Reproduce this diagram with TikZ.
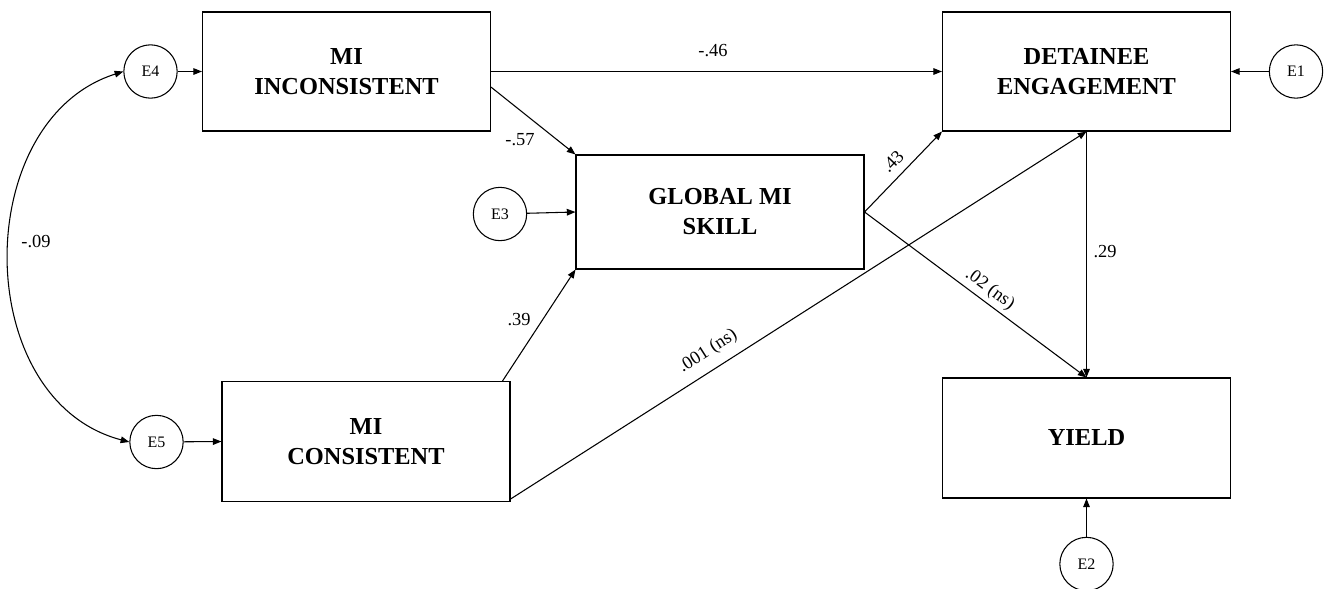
\documentclass[tikz,border=0pt]{standalone}
\usepackage{fontspec}
\setmainfont{Liberation Serif}
\usetikzlibrary{arrows.meta,calc}
\tikzset{
  boxnode/.style={draw, line width=0.8pt, rectangle, minimum width=216pt, inner sep=0pt, align=center,
    font=\bfseries\fontsize{18.3}{22.5}\selectfont},
  errnode/.style={draw, line width=0.8pt, circle, minimum size=40pt, inner sep=0pt,
    font=\fontsize{12}{14}\selectfont},
  coef/.style={font=\fontsize{13.8}{16}\selectfont, inner sep=1pt},
  path/.style={line width=0.8pt, -{Triangle[length=6.5pt,width=5pt]}},
  cov/.style={line width=0.8pt, {Triangle[length=6.5pt,width=5pt]}-{Triangle[length=6.5pt,width=5pt]}}
}
\begin{document}
\begin{tikzpicture}[x=0.75pt,y=-0.75pt]
\useasboundingbox (0,0) rectangle (1325,589);
% boxes
\node[boxnode, minimum height=89.25pt] (inc) at (346.5,71.5) {MI\\INCONSISTENT};
\node[boxnode, minimum height=89.25pt] (det) at (1086.5,71.5) {DETAINEE\\ENGAGEMENT};
\node[boxnode, minimum height=85.5pt] (glob) at (720,212) {GLOBAL MI\\SKILL};
\node[boxnode, minimum height=90pt] (cons) at (366,441.5) {MI\\CONSISTENT};
\node[boxnode, minimum height=90pt] (yield) at (1086.5,438) {YIELD};
% error terms
\node[errnode] (e4) at (150.5,71.5) {E4};
\node[errnode] (e5) at (156.5,442) {E5};
\node[errnode] (e3) at (500,214) {E3};
\node[errnode] (e1) at (1296,71.5) {E1};
\node[errnode] (e2) at (1086.5,564) {E2};
% error arrows
\draw[path] (e4) -- (inc.west);
\draw[path] (e5) -- (cons.west);
\draw[path] (e3) -- (glob.west);
\draw[path] (e1) -- (det.east);
\draw[path] (e2) -- (yield.south);
% covariance
\draw[cov] (e4.west) .. controls (-30,120) and (-30,400) .. (e5.west);
% structural paths
\draw[path] (inc.east) -- (det.west);
\draw[path] ($(inc.east)!0.26!(inc.south east)$) -- (glob.north west);
\draw[path] ($(cons.north east)+(-8,0)$) -- (glob.south west);
\draw[path] ($(cons.south east)+(0,-3)$) -- node[coef, pos=0.36, sloped, above=6pt] (l001) {.001 (ns)} (det.south);
\draw[path] (glob.east) -- node[coef, pos=0.5, sloped, above=5pt] (l43) {.43} (det.south west);
\draw[path] (glob.east) -- node[coef, pos=0.53, sloped, above=2pt] (l02) {.02 (ns)} (yield.north);
\draw[path] (det.south) -- (yield.north);
% coefficient labels
\node[coef] (l46) at (713,51) {-.46};
\node[coef] (l57) at (520,140) {-.57};
\node[coef] (l39) at (519,320) {.39};
\node[coef] (l29) at (1105,252) {.29};
\node[coef] (l09) at (36,242) {-.09};
\end{tikzpicture}
\end{document}
